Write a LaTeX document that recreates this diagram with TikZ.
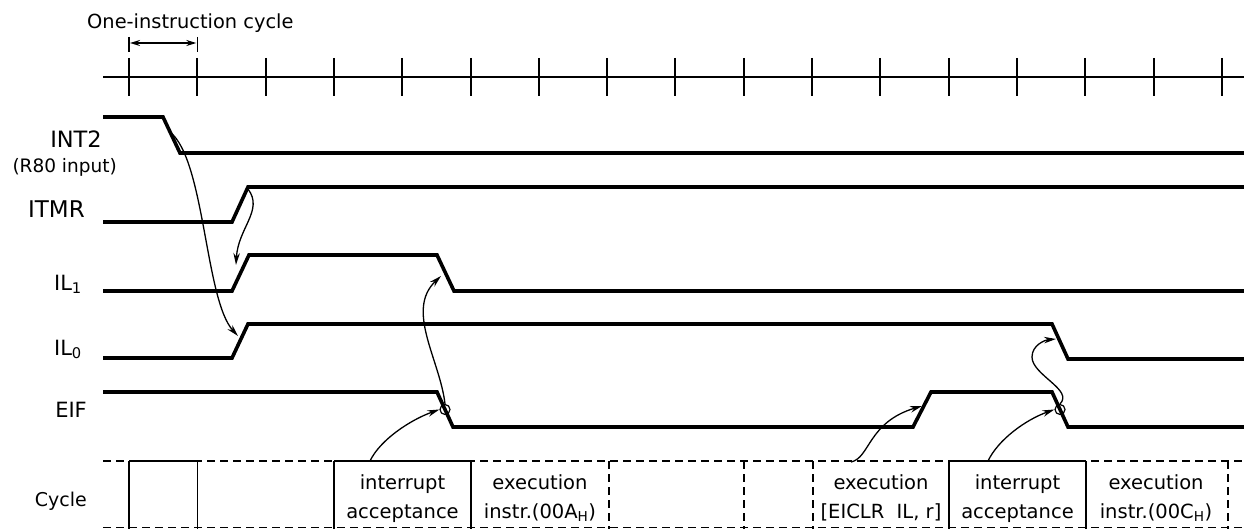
\documentclass[tikz,border=0pt]{standalone}
\usepackage{fontspec}
\setmainfont{DejaVu Sans}
\usetikzlibrary{arrows.meta}
\begin{document}
\begin{tikzpicture}[x=1pt,y=-1pt,
  sig/.style={line width=3.6pt, line join=miter, line cap=butt},
  axisline/.style={line width=1.8pt},
  tickmark/.style={line width=2pt},
  cause/.style={line width=1.3pt, -{Stealth[length=12pt,width=6.5pt]}},
  sigtext/.style={font=\fontsize{21}{25}\selectfont, anchor=base east, inner sep=0pt},
  smalltext/.style={font=\fontsize{18.5}{22}\selectfont, anchor=base east, inner sep=0pt},
  boxtext/.style={font=\fontsize{19.5}{23}\selectfont, anchor=base, inner sep=0pt},
  solidsep/.style={line width=1.6pt},
  dashsep/.style={line width=1.5pt, dash pattern=on 8pt off 5pt},
  mark circle/.style={circle, draw, line width=1.2pt, minimum size=10pt, inner sep=0pt}
]
\useasboundingbox (0,0) rectangle (1244,529);

% time axis with one tick per instruction cycle
\draw[axisline] (103,77) -- (1244,77);
\foreach \k in {0,...,16}
  \draw[tickmark] ({129+68.31*\k},58) -- ({129+68.31*\k},96);

% one-instruction cycle marker
\node[font=\fontsize{19.4}{23}\selectfont, anchor=base west, inner sep=0pt] (oic) at (87,28.5) {One-instruction cycle};
\draw[line width=1.6pt] (129,37) -- (129,52);
\draw[line width=1.6pt] (197.3,37) -- (197.3,52);
\coordinate (oicl) at (130,43);
\coordinate (oicr) at (196.3,43);
\draw[line width=1.6pt, {Stealth[length=10pt,width=6pt]}-{Stealth[length=10pt,width=6pt]}] (oicl) -- (oicr);

% signal names
\node[sigtext, font=\fontsize{22.5}{26}\selectfont] (lint) at (102,148) {INT2};
\node[smalltext] (lr80) at (117,173) {(R80 input)};
\node[sigtext, font=\fontsize{23}{26}\selectfont] (litmr) at (85,218) {ITMR};
\node[sigtext] (lil1) at (82,290) {IL\textsubscript{1}};
\node[sigtext] (lil0) at (82,355) {IL\textsubscript{0}};
\node[sigtext] (leif) at (87,417) {EIF};
\node[sigtext, font=\fontsize{19}{23}\selectfont] (lcyc) at (87,506) {Cycle};

% waveforms
\draw[sig] (103,117) -- (163,117) -- (180,153) -- (1244,153);
\draw[sig] (103,222) -- (232,222) -- (248,187) -- (1244,187);
\draw[sig] (103,291) -- (232,291) -- (249,255) -- (437,255) -- (454,291) -- (1244,291);
\draw[sig] (103,358) -- (232,358) -- (248,324) -- (1052,324) -- (1068,359) -- (1244,359);
\draw[sig] (103,392) -- (437,392) -- (453,427) -- (913,427) -- (931,392) -- (1052,392) -- (1068,427) -- (1244,427);

% points on the edges
\coordinate (int2fall) at (170,132);
\coordinate (itmrrise) at (248,189);
\coordinate (il1rise) at (236,265);
\coordinate (il0rise) at (238,336);
\coordinate (il1fall) at (441,276);
\coordinate (eifrise) at (922,406);
\coordinate (il0fall) at (1056,339);
\node[mark circle] (eifa) at (445,409.5) {};
\node[mark circle] (eifb) at (1060,409.5) {};

% cycle row
\draw[dashsep] (103,461) -- (1244,461);
\draw[dashsep] (103,527.5) -- (1244,527.5);
\draw[solidsep] (129,461) -- (197.3,461);
\draw[solidsep] (334,461) -- (471,461);
\draw[solidsep] (949,461) -- (1086,461);
\foreach \x in {129,197.3,334,471,949,1086}
  \draw[solidsep] (\x,461) -- (\x,529);
\foreach \x in {609,744,813,1228}
  \draw[dashsep] (\x,461) -- (\x,529);

\node[boxtext] (ia1a) at (402.5,489) {interrupt};
\node[boxtext] (ia1b) at (402.5,518) {acceptance};
\node[boxtext] (ex1a) at (540,489) {execution};
\node[boxtext] (ex1b) at (540,518) {instr.(00A\textsubscript{H})};
\node[boxtext] (ex2a) at (881,489) {execution};
\node[boxtext] (ex2b) at (881,518) {[EICLR\ \ IL, r]};
\node[boxtext] (ia2a) at (1017.5,489) {interrupt};
\node[boxtext] (ia2b) at (1017.5,518) {acceptance};
\node[boxtext] (ex3a) at (1156,489) {execution};
\node[boxtext] (ex3b) at (1156,518) {instr.(00C\textsubscript{H})};

\coordinate (ia1top) at (370,461);
\coordinate (ex2top) at (851,462);
\coordinate (ia2top) at (988,461);

% cause and effect arrows
\draw[cause] (int2fall) .. controls (205,160) and (205,300) .. (il0rise);
\draw[cause] (itmrrise) .. controls (264,210) and (238,228) .. (il1rise);
\draw[cause] (eifa.north) .. controls (440,360) and (405,310) .. (il1fall);
\draw[cause] (ia1top) .. controls (380,440) and (410,420) .. (eifa.west);
\draw[cause] (ex2top) .. controls (870,458) and (868,422) .. (eifrise);
\draw[cause] (ia2top) .. controls (998,440) and (1025,420) .. (eifb.west);
\draw[cause] (eifb.north) .. controls (1074,390) and (1032,375) .. (1032,357)
  .. controls (1032,345) and (1045,340) .. (il0fall);
\end{tikzpicture}
\end{document}
